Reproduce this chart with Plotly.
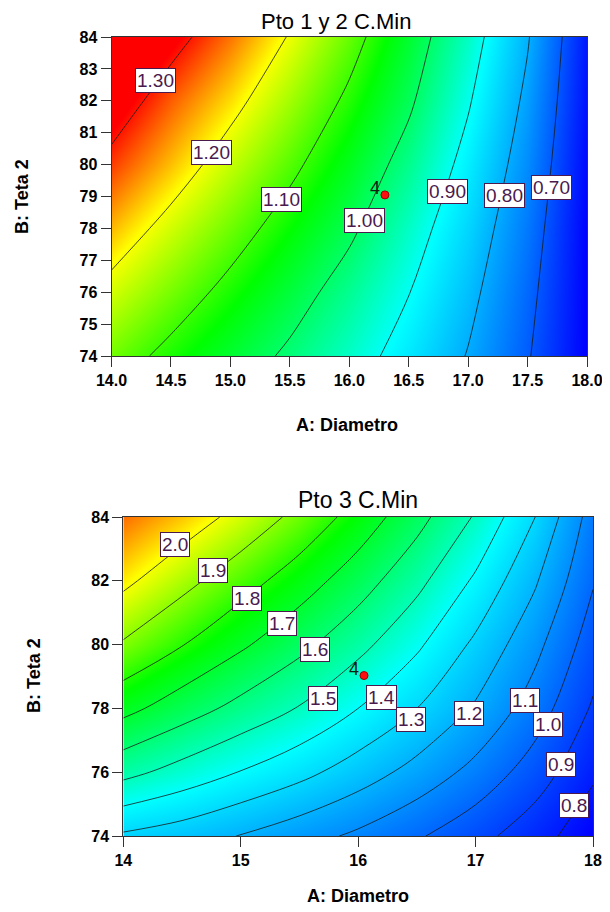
import plotly.graph_objects as go

# ---------------- data ----------------
x_vals = [14.0, 14.5, 15.0, 15.5, 16.0, 16.5, 17.0, 17.5, 18.0]
y_vals = [74, 76, 78, 80, 82, 84]

# Pto 1 y 2 C.Min  (rows = y_vals, columns = x_vals)
z_top = [
    [1.130, 1.083, 1.037, 0.988, 0.933, 0.870, 0.796, 0.706, 0.597],
    [1.182, 1.133, 1.082, 1.030, 0.970, 0.902, 0.821, 0.721, 0.598],
    [1.234, 1.181, 1.128, 1.072, 1.013, 0.935, 0.847, 0.740, 0.599],
    [1.285, 1.231, 1.173, 1.115, 1.050, 0.974, 0.876, 0.762, 0.607],
    [1.333, 1.272, 1.218, 1.156, 1.088, 1.011, 0.907, 0.784, 0.616],
    [1.378, 1.321, 1.262, 1.196, 1.124, 1.039, 0.935, 0.806, 0.624],
]
# Pto 3 C.Min
z_bot = [
    [1.285, 1.248, 1.196, 1.140, 1.081, 1.012, 0.934, 0.843, 0.737],
    [1.530, 1.463, 1.396, 1.330, 1.251, 1.165, 1.069, 0.953, 0.816],
    [1.730, 1.648, 1.570, 1.494, 1.400, 1.300, 1.188, 1.053, 0.888],
    [1.890, 1.804, 1.716, 1.627, 1.530, 1.417, 1.280, 1.131, 0.949],
    [2.022, 1.931, 1.842, 1.749, 1.646, 1.528, 1.384, 1.214, 1.008],
    [2.130, 2.056, 1.969, 1.872, 1.760, 1.634, 1.490, 1.304, 1.055],
]

top_levels = [0.70, 1.30, 0.10]   # start, end, step
bot_levels = [0.80, 2.00, 0.10]

top_label_text = ["1.30", "1.20", "1.10", "1.00", "0.90", "0.80", "0.70"]
top_label_x = [14.37, 14.84, 15.43, 16.13, 16.83, 17.31, 17.70]
top_label_y = [82.64, 80.38, 78.90, 78.25, 79.17, 79.03, 79.27]

bot_label_text = ["2.0", "1.9", "1.8", "1.7", "1.6", "1.5", "1.4", "1.3", "1.2", "1.1", "1.0", "0.9", "0.8"]
bot_label_x = [14.44, 14.76, 15.05, 15.35, 15.63, 15.70, 16.20, 16.45, 16.94, 17.42, 17.62, 17.73, 17.84]
bot_label_y = [83.15, 82.33, 81.46, 80.67, 79.86, 78.32, 78.34, 77.64, 77.83, 78.25, 77.48, 76.23, 74.97]

design_pt_top = (16.30, 79.05)
design_pt_bot = (16.05, 79.03)
design_pt_name = "4"

top_x_ticks = [14.0, 14.5, 15.0, 15.5, 16.0, 16.5, 17.0, 17.5, 18.0]
top_y_ticks = [74, 75, 76, 77, 78, 79, 80, 81, 82, 83, 84]
bot_x_ticks = [14, 15, 16, 17, 18]
bot_y_ticks = [74, 76, 78, 80, 82, 84]

# ---------------- style ----------------
FONT = "Liberation Sans, Arial, sans-serif"
colorscale_top = [
    [0.0, "rgb(0,0,255)"],
    [0.415, "rgb(0,255,255)"],
    [0.662, "rgb(0,255,0)"],
    [0.852, "rgb(255,255,0)"],
    [1.0, "rgb(255,0,0)"],
]
colorscale_bot = [
    [0.0, "rgb(0,0,255)"],
    [0.446, "rgb(0,255,255)"],
    [0.696, "rgb(0,255,0)"],
    [0.858, "rgb(255,255,0)"],
    [1.0, "rgb(255,0,0)"],
]
LABEL_COLOR = "#4a1a4e"

# the page body has an 8px margin: lay out in page pixels and shift
OFF = 8
W, H = 610 - OFF, 912 - OFF

def px_x(p):
    return (p - OFF) / W

def px_y(p):
    return 1 - (p - OFF) / H

fig = go.Figure()

def add_panel(z, levels, cs, zmin, zmax, xa, ya):
    fig.add_trace(go.Contour(
        x=x_vals, y=y_vals, z=z,
        xaxis=xa, yaxis=ya,
        colorscale=cs, zmin=zmin, zmax=zmax, zauto=False,
        showscale=False,
        contours=dict(start=levels[0], end=levels[1] + 1e-9, size=levels[2],
                      coloring="heatmap", showlabels=False),
        line=dict(color="#1a1a1a", width=0.8, smoothing=1.0),
        hoverinfo="skip",
    ))

add_panel(z_top, top_levels, colorscale_top, 0.60, 1.31, "x", "y")
add_panel(z_bot, bot_levels, colorscale_bot, 0.74, 2.22, "x2", "y2")

for pt, xa, ya in [(design_pt_top, "x", "y"), (design_pt_bot, "x2", "y2")]:
    fig.add_trace(go.Scatter(
        x=[pt[0]], y=[pt[1]], xaxis=xa, yaxis=ya, mode="markers",
        marker=dict(size=8, color="#ff1010", line=dict(color="#a00000", width=1)),
        showlegend=False, hoverinfo="skip",
    ))

annotations = []

def add_labels(texts, xs, ys, xref, yref, size):
    for t, lx, ly in zip(texts, xs, ys):
        annotations.append(dict(
            x=lx, y=ly, xref=xref, yref=yref, text=t, showarrow=False,
            font=dict(family=FONT, size=size, color=LABEL_COLOR),
            bgcolor="white", bordercolor=LABEL_COLOR, borderwidth=1, borderpad=1,
            xanchor="center", yanchor="middle",
        ))

add_labels(top_label_text, top_label_x, top_label_y, "x", "y", 19)
add_labels(bot_label_text, bot_label_x, bot_label_y, "x2", "y2", 19)

for pt, xref, yref in [(design_pt_top, "x", "y"), (design_pt_bot, "x2", "y2")]:
    annotations.append(dict(
        x=pt[0], y=pt[1], xref=xref, yref=yref, text=design_pt_name, showarrow=False,
        font=dict(family=FONT, size=18, color="#102010"),
        xanchor="right", yanchor="bottom", xshift=-3, yshift=-5,
    ))

def paper_text(text, px, py, size, bold=False, angle=0):
    annotations.append(dict(
        x=px_x(px), y=px_y(py), xref="paper", yref="paper", text=text,
        showarrow=False, textangle=angle,
        font=dict(family=FONT, size=size, color="black", weight="bold" if bold else "normal"),
        xanchor="center", yanchor="middle",
    ))

paper_text("Pto 1 y 2 C.Min", 336, 21, 22)
paper_text("A: Diametro", 347, 425, 18, bold=True)
paper_text("B: Teta 2", 22, 197, 18, bold=True, angle=-90)
paper_text("Pto 3 C.Min", 358, 500, 23)
paper_text("A: Diametro", 358, 896, 18, bold=True)
paper_text("B: Teta 2", 34, 676, 18, bold=True, angle=-90)

axis_common = dict(
    showline=True, linecolor="#333333", linewidth=1, mirror=True,
    ticks="outside", ticklen=10, tickcolor="#333333", tickwidth=1,
    showgrid=False, zeroline=False, automargin=False,
    tickfont=dict(family=FONT, size=16, color="black", weight="bold"),
)

fig.update_layout(
    width=W, height=H, autosize=False,
    margin=dict(l=0, r=0, t=0, b=0, pad=0, autoexpand=False),
    paper_bgcolor="white", plot_bgcolor="white",
    showlegend=False,
    annotations=annotations,
    xaxis=dict(domain=[px_x(111.5), px_x(587)], range=[14, 18], anchor="y",
               tickvals=top_x_ticks, ticktext=[f"{v:.1f}" for v in top_x_ticks], **axis_common),
    yaxis=dict(domain=[px_y(356), px_y(37)], range=[74, 84], anchor="x",
               tickvals=top_y_ticks, **axis_common),
    xaxis2=dict(domain=[px_x(123.3), px_x(593)], range=[14, 18], anchor="y2",
                tickvals=bot_x_ticks, **axis_common),
    yaxis2=dict(domain=[px_y(836), px_y(517)], range=[74, 84], anchor="x2",
                tickvals=bot_y_ticks, **axis_common),
)

fig.write_html("out.html", config={"responsive": False})
